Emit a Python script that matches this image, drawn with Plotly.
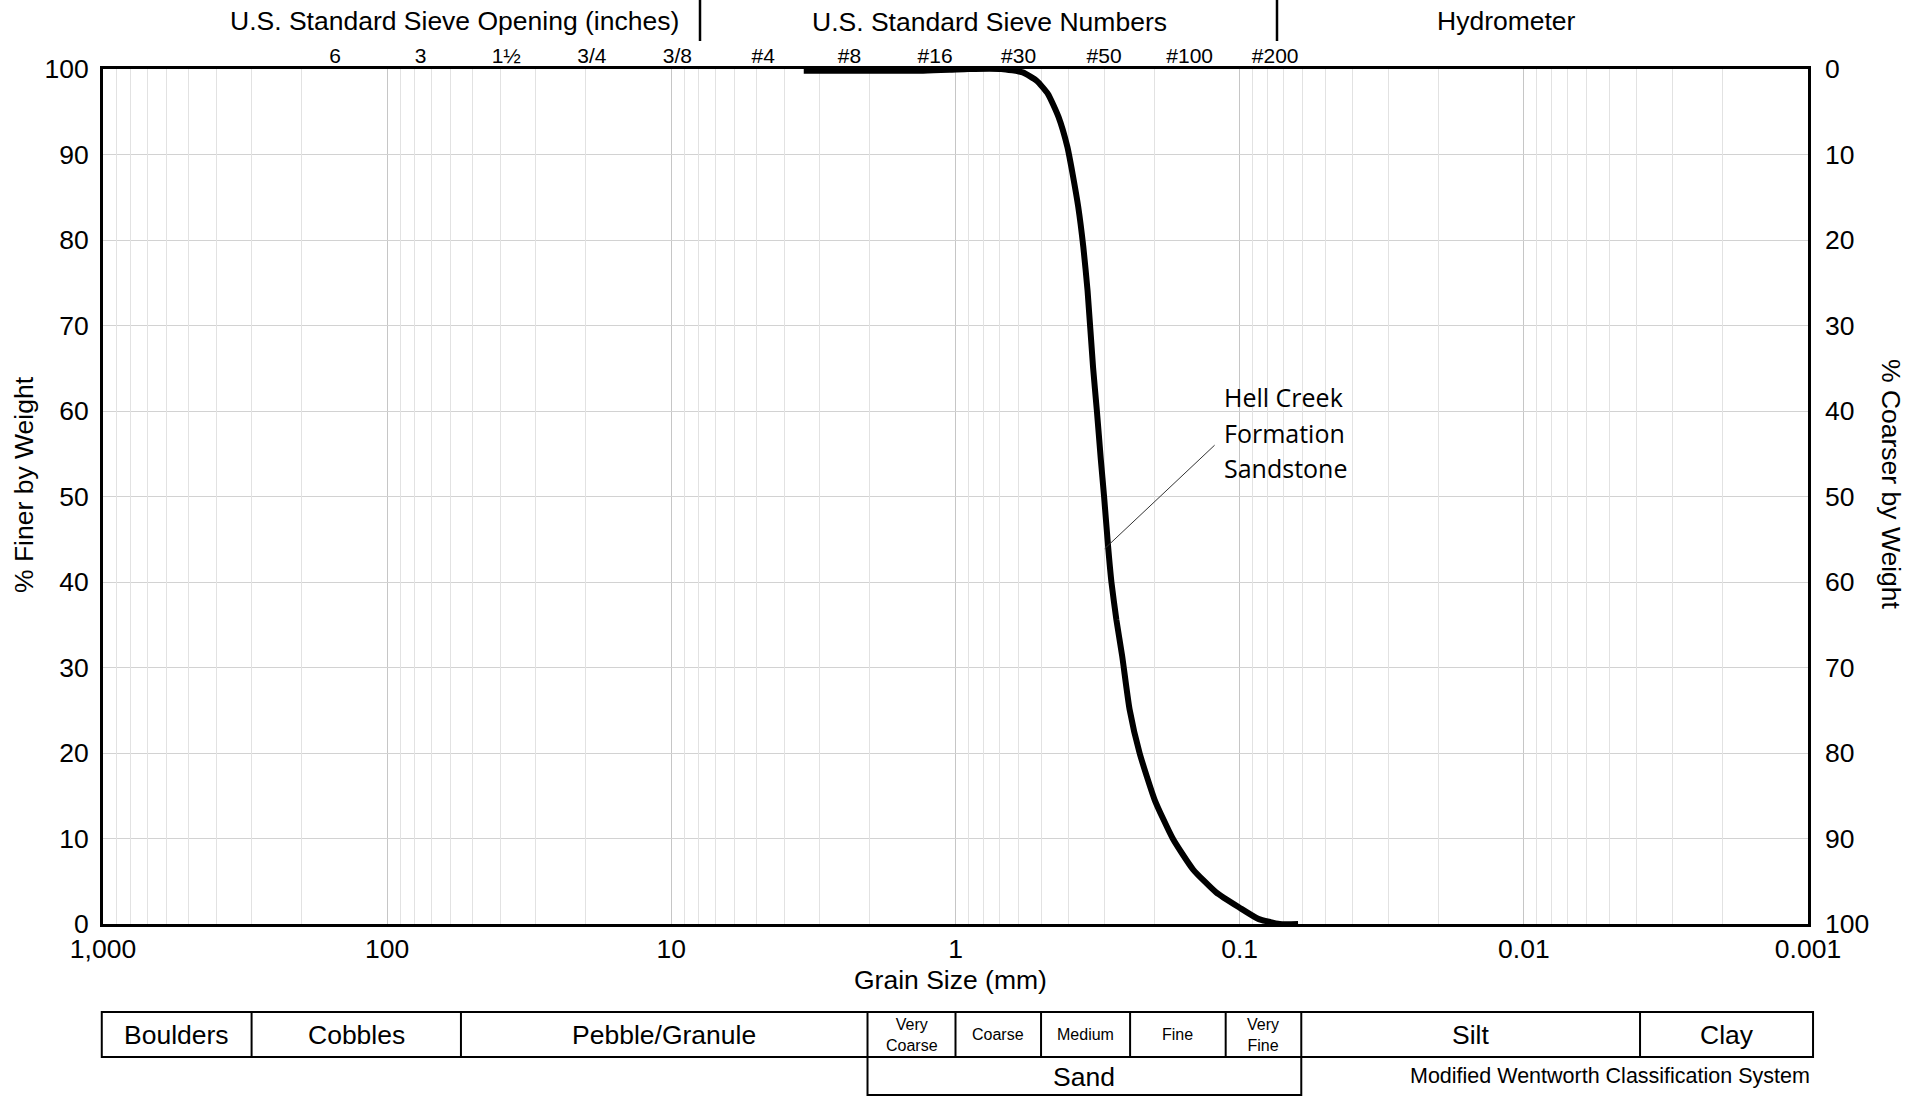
import math
import plotly.graph_objects as go

# ---------------- data ----------------
grain_size_mm = [3.42, 2.0, 1.3, 1.05, 0.90, 0.69, 0.58, 0.517, 0.473, 0.434, 0.404,
                 0.387, 0.370, 0.355, 0.343, 0.328, 0.318, 0.308, 0.300, 0.2905,
                 0.2827, 0.2716, 0.259, 0.244, 0.225, 0.199, 0.172, 0.146, 0.121,
                 0.100, 0.086, 0.0723, 0.0623]
percent_finer = [99.8, 99.8, 99.8, 99.9, 100.0, 100.0, 99.6, 98.6, 97.1, 94.4, 90.9,
                 87.7, 83.9, 79.2, 74.1, 65.1, 60.0, 54.3, 50.0, 44.2,
                 40.0, 35.6, 31.3, 25.1, 20.0, 14.5, 10.0, 6.4, 3.7,
                 1.9, 0.6, 0.0, 0.0]

x_tick_vals = [1000, 100, 10, 1, 0.1, 0.01, 0.001]
x_tick_text = ["1,000", "100", "10", "1", "0.1", "0.01", "0.001"]
y_tick_vals = [0, 10, 20, 30, 40, 50, 60, 70, 80, 90, 100]

sieve_sizes_mm = [152.4, 76.2, 38.1, 19.05, 9.525, 4.75, 2.36, 1.18, 0.6, 0.3, 0.15, 0.075]
sieve_labels = ["6", "3", "1½", "3/4", "3/8", "#4", "#8", "#16", "#30", "#50", "#100", "#200"]

header_labels = ["U.S. Standard Sieve Opening (inches)", "U.S. Standard Sieve Numbers", "Hydrometer"]

class_labels = ["Boulders", "Cobbles", "Pebble/Granule", "Very<br>Coarse", "Coarse",
                "Medium", "Fine", "Very<br>Fine", "Silt", "Clay"]
class_bounds_mm = [1010, 300, 55, 2.04, 1, 0.5, 0.243, 0.112, 0.0607, 0.0039, 0.00096]
small_classes = {"Very<br>Coarse", "Coarse", "Medium", "Fine", "Very<br>Fine"}

sample_label_lines = ["Hell Creek", "Formation", "Sandstone"]
leader_x_mm = [0.1225, 0.2985]
leader_y_pct = [56.0, 43.9]

# ---------------- layout geometry ----------------
W, H = 1925, 1097
ML, MR, MT, MB = 103, 117, 69, 173
PW, PH = W - ML - MR, H - MT - MB
XRANGE = [3, -3]  # log10, reversed


def px(X):
    return (X - ML) / PW


def py(Y):
    return (H - MB - Y) / PH


def size_to_paper(v):
    return (XRANGE[0] - math.log10(v)) / (XRANGE[0] - XRANGE[1])


FONT = "Liberation Sans, Arial, sans-serif"
BIG = 26.5
minor_vals = [m * 10 ** k for k in range(-3, 3) for m in range(2, 10)]

fig = go.Figure()

fig.add_trace(go.Scatter(
    x=grain_size_mm, y=percent_finer, mode="lines",
    line=dict(color="black", width=6, shape="spline", smoothing=0.5),
    showlegend=False, hoverinfo="x+y"))

fig.add_trace(go.Scatter(
    x=leader_x_mm, y=leader_y_pct, mode="lines",
    line=dict(color="#333333", width=1), showlegend=False, hoverinfo="skip"))

# empty helper traces so overlay axes are drawn
fig.add_trace(go.Scatter(x=[], y=[], xaxis="x2", yaxis="y", showlegend=False, hoverinfo="skip"))
fig.add_trace(go.Scatter(x=[], y=[], xaxis="x3", yaxis="y", showlegend=False, hoverinfo="skip"))
fig.add_trace(go.Scatter(x=[], y=[], xaxis="x", yaxis="y2", showlegend=False, hoverinfo="skip"))

fig.update_layout(
    width=W, height=H,
    margin=dict(l=ML, r=MR, t=MT, b=MB, pad=0),
    paper_bgcolor="white", plot_bgcolor="white",
    font=dict(family=FONT, color="black", size=BIG),
    showlegend=False,
    xaxis=dict(type="log", range=XRANGE, tickvals=x_tick_vals, ticktext=x_tick_text,
               showgrid=True, gridcolor="#c6c6c6", gridwidth=1.2,
               showline=True, linecolor="black", linewidth=3, mirror=True,
               ticks="", ticklabelstandoff=-1, zeroline=False,
               tickfont=dict(size=BIG, family=FONT)),
    xaxis3=dict(type="log", range=XRANGE, overlaying="x", anchor="y", side="bottom",
                tickvals=minor_vals, showticklabels=False, ticks="",
                showgrid=True, gridcolor="#e2e2e2", gridwidth=1, showline=False, zeroline=False),
    xaxis2=dict(type="log", range=XRANGE, overlaying="x", anchor="y", side="top",
                tickvals=sieve_sizes_mm, ticktext=sieve_labels, showgrid=False,
                showline=False, ticks="", ticklabelstandoff=1, zeroline=False,
                tickfont=dict(size=21, family=FONT)),
    yaxis=dict(range=[0, 100], tickvals=y_tick_vals, showgrid=True, gridcolor="#d2d2d2",
               gridwidth=1.2, showline=True, linecolor="black", linewidth=3, mirror=True,
               ticks="", ticklabelstandoff=6, zeroline=False,
               tickfont=dict(size=BIG, family=FONT)),
    yaxis2=dict(range=[100, 0], overlaying="y", anchor="x", side="right",
                tickvals=y_tick_vals, showgrid=False, showline=False, ticks="",
                ticklabelstandoff=16, zeroline=False,
                tickfont=dict(size=BIG, family=FONT)),
)

ann = []
shapes = []

# header texts and separators
for text, (X, Y) in zip(header_labels, [(454, 21), (989, 22), (1506, 21)]):
    ann.append(dict(text=text, x=px(X), y=py(Y), xref="paper", yref="paper",
                    xanchor="center", yanchor="middle", showarrow=False,
                    font=dict(size=BIG, family=FONT)))
for X in (700, 1277):
    shapes.append(dict(type="line", xref="paper", yref="paper", x0=px(X), x1=px(X),
                       y0=py(0), y1=py(41), line=dict(color="black", width=2.5)))

# axis titles
ann.append(dict(text="% Finer by Weight", x=px(24), y=py(485), xref="paper", yref="paper",
                textangle=-90, xanchor="center", yanchor="middle", showarrow=False,
                font=dict(size=BIG, family=FONT)))
ann.append(dict(text="% Coarser by Weight", x=px(1891), y=py(485), xref="paper", yref="paper",
                textangle=90, xanchor="center", yanchor="middle", showarrow=False,
                font=dict(size=BIG, family=FONT)))
ann.append(dict(text="Grain Size (mm)", x=px(950), y=py(980), xref="paper", yref="paper",
                xanchor="center", yanchor="middle", showarrow=False,
                font=dict(size=BIG, family=FONT)))

# sample label
for line, Y in zip(sample_label_lines, (397, 432.5, 468)):
    ann.append(dict(text=line, x=px(1222), y=py(Y), xref="paper", yref="paper",
                    xanchor="left", yanchor="middle", showarrow=False,
                    font=dict(size=25, family="Open Sans, Noto Sans, sans-serif")))

# classification table
ROW1_TOP, ROW1_BOT, ROW2_BOT = 1012, 1057, 1095
bx = [size_to_paper(v) for v in class_bounds_mm]
tline = dict(color="black", width=2)
shapes.append(dict(type="rect", xref="paper", yref="paper", x0=bx[0], x1=bx[-1],
                   y0=py(ROW1_TOP), y1=py(ROW1_BOT), line=tline))
for b in bx[1:-1]:
    shapes.append(dict(type="line", xref="paper", yref="paper", x0=b, x1=b,
                       y0=py(ROW1_TOP), y1=py(ROW1_BOT), line=tline))
shapes.append(dict(type="rect", xref="paper", yref="paper", x0=bx[3], x1=bx[8],
                   y0=py(ROW1_BOT), y1=py(ROW2_BOT), line=tline))
for i, lab in enumerate(class_labels):
    small = lab in small_classes
    ann.append(dict(text=lab, x=(bx[i] + bx[i + 1]) / 2, y=py((ROW1_TOP + ROW1_BOT) / 2),
                    xref="paper", yref="paper", xanchor="center", yanchor="middle",
                    showarrow=False,
                    font=dict(size=16 if small else BIG, family=FONT)))
ann.append(dict(text="Sand", x=(bx[3] + bx[8]) / 2, y=py(1077), xref="paper", yref="paper",
                xanchor="center", yanchor="middle", showarrow=False,
                font=dict(size=BIG, family=FONT)))
ann.append(dict(text="Modified Wentworth Classification System", x=px(1812), y=py(1076),
                xref="paper", yref="paper", xanchor="right", yanchor="middle",
                showarrow=False, font=dict(size=21.5, family=FONT)))

fig.update_layout(annotations=ann, shapes=shapes)

fig.write_html("out.html", config=dict(displayModeBar=False),
               post_script="document.body.style.margin='0';")
